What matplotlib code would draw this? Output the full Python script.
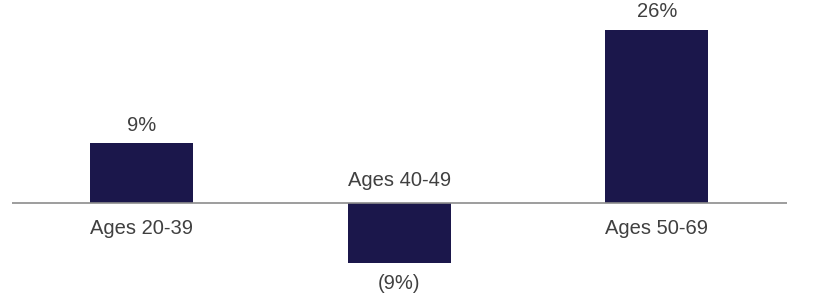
import matplotlib
matplotlib.use('Agg')
import matplotlib.pyplot as plt

# Dados
grupos = ['Ages 20-39', 'Ages 40-49', 'Ages 50-69']
valores = [9, -9, 26]
rotulos = ['9%', '(9%)', '26%']

cor_barra = '#1b174b'
cor_texto = '#404040'

plt.rcParams['font.family'] = ['Liberation Sans', 'DejaVu Sans']

fig = plt.figure(figsize=(8.14, 2.99), dpi=100)
ax = fig.add_axes([12 / 814, 0, 775 / 814, 1])

posicoes = list(range(len(grupos)))
ax.bar(posicoes, valores, width=0.4, color=cor_barra)
ax.axhline(0, color='#8c8c8c', linewidth=1.2)

ax.set_xlim(-0.503, 2.505)
ax.set_ylim(-14.4, 30.5)
ax.axis('off')

for x, v, r, g in zip(posicoes, valores, rotulos, grupos):
    if v >= 0:
        ax.annotate(r, (x, v), xytext=(0, 18), textcoords='offset pixels',
                    ha='center', va='center', fontsize=14.5, color=cor_texto)
        ax.annotate(g, (x, 0), xytext=(0, -25), textcoords='offset pixels',
                    ha='center', va='center', fontsize=14.5, color=cor_texto)
    else:
        ax.annotate(r, (x, v), xytext=(0, -20), textcoords='offset pixels',
                    ha='center', va='center', fontsize=14.5, color=cor_texto)
        ax.annotate(g, (x, 0), xytext=(0, 23), textcoords='offset pixels',
                    ha='center', va='center', fontsize=14.5, color=cor_texto)

fig.savefig('out.png', dpi=100)
